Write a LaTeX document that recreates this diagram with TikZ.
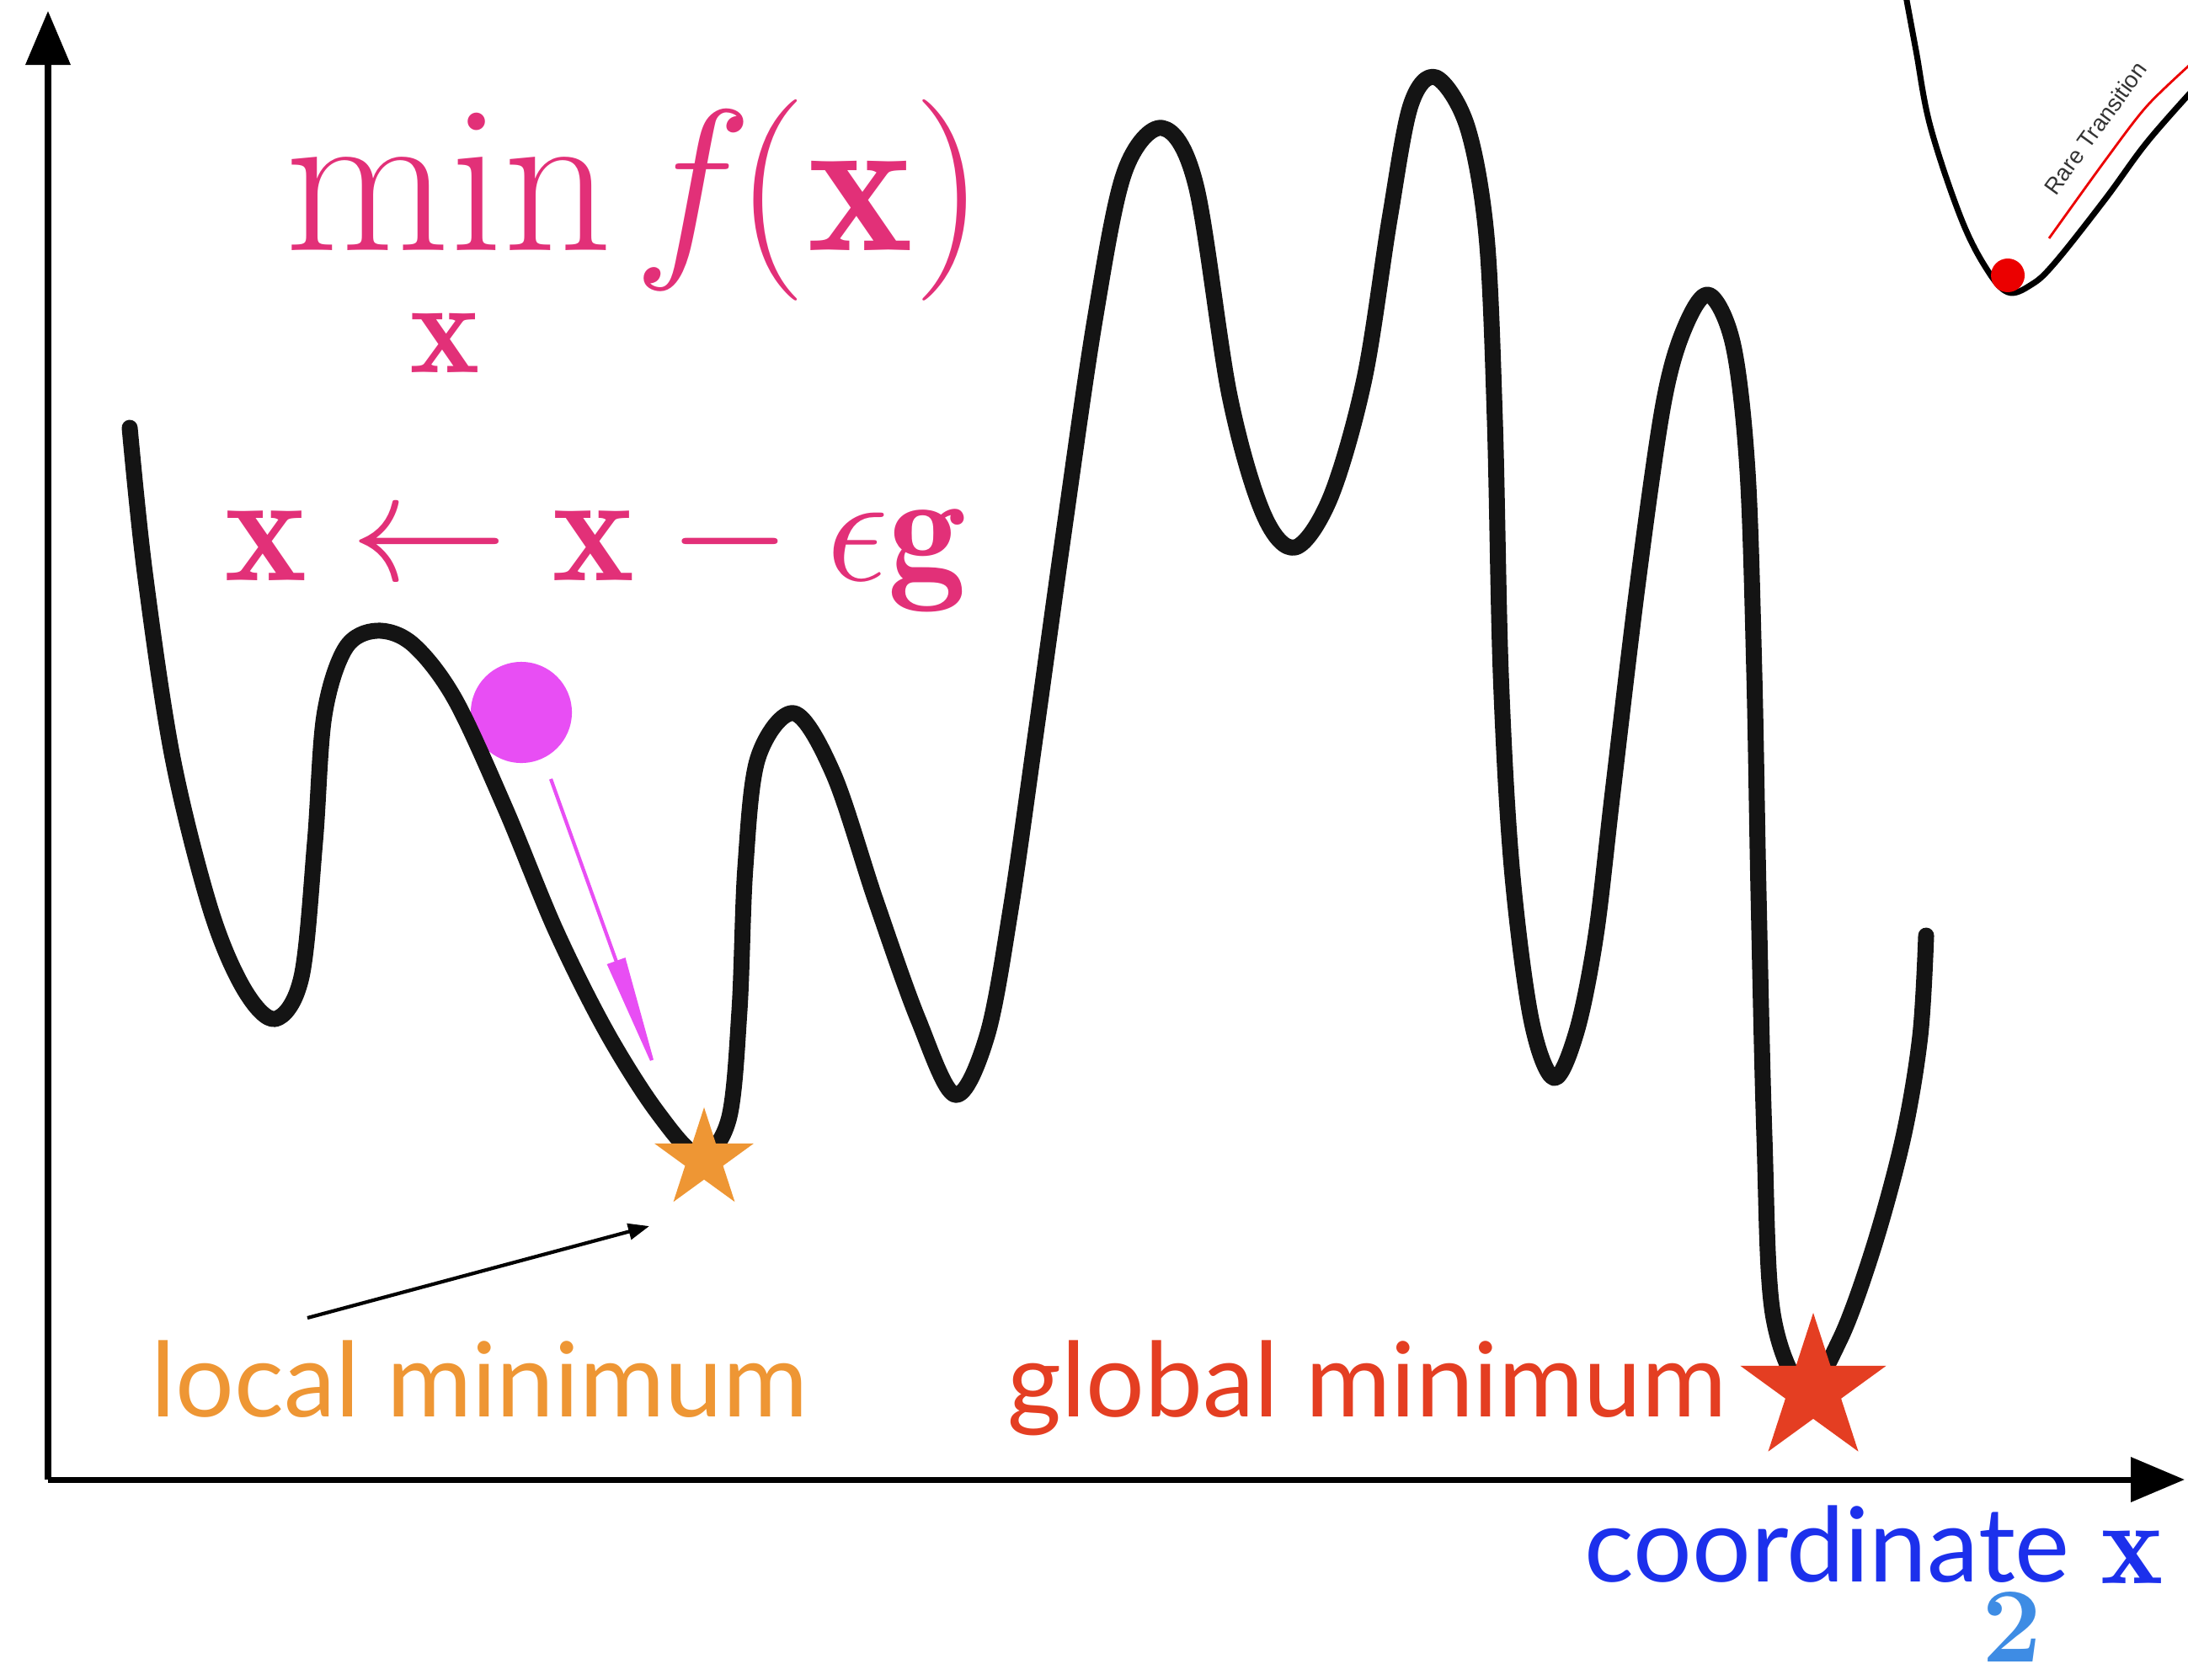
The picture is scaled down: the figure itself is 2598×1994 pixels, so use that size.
\RequirePackage{fix-cm}
\documentclass[tikz,border=0pt]{standalone}
\usepackage{fontspec}
\newfontfamily\lato{Lato}
\newfontfamily\arialfont{Liberation Sans}
\usetikzlibrary{arrows.meta,shapes.geometric}
\definecolor{fpink}{RGB}{226,48,120}
\definecolor{ballmag}{RGB}{232,78,244}
\definecolor{locorange}{RGB}{238,150,52}
\definecolor{globred}{RGB}{228,62,34}
\definecolor{coordblue}{RGB}{28,48,236}
\definecolor{twoblue}{RGB}{62,140,228}
\definecolor{dotred}{RGB}{235,0,0}
\begin{document}
\begin{tikzpicture}[x=0.01cm,y=-0.01cm,
  landscape/.style={line width=5.4pt, line join=round, line cap=round, black!92},
  axisline/.style={line width=2pt, -{Triangle[length=0.64cm,width=0.52cm]}},
  sanslabel/.style={anchor=base west, inner sep=0, font=\lato\fontsize{35}{40}\selectfont},
  mathlabel/.style={anchor=base west, inner sep=0, text=fpink},
  starmark/.style={star, star points=5, star point ratio=2.618, inner sep=0, draw=none},
  dot/.style={circle, inner sep=0, draw=none}]
\useasboundingbox (0,0) rectangle (2598,1994);

% axes
\coordinate (O) at (57,1757);
\coordinate (ytip) at (57,13);
\coordinate (xtip) at (2594,1757);
\draw[axisline] (O) -- (ytip);
\draw[axisline] (O) -- (xtip);

% ball
\node[dot, fill=ballmag, minimum size=1.2cm] (ball) at (619,846) {};

% landscape
\draw[landscape] plot[smooth, tension=0.55] coordinates {
(154,508) (172,680) (205,900) (250,1080) (290,1175) (327,1210) (358,1160)
(374,1000) (385,850) (410,770) (447,749) (490,765) (540,830) (600,960)
(660,1105) (720,1225) (780,1320) (830,1372) (865,1330) (878,1200) (885,1030)
(900,900) (943,847) (990,920) (1040,1070) (1090,1210) (1134,1300) (1172,1230)
(1200,1080) (1230,870) (1262,640) (1300,380) (1335,205) (1380,152) (1420,220)
(1460,470) (1500,610) (1538,650) (1580,590) (1620,450) (1650,260) (1675,125)
(1705,92) (1742,150) (1765,280) (1775,500) (1782,800) (1795,1030) (1818,1210)
(1845,1280) (1872,1225) (1895,1110) (1915,940) (1945,690) (1975,480) (2000,390)
(2029,350) (2058,410) (2075,560) (2083,800) (2088,1060) (2095,1350) (2105,1560)
(2143,1650) (2185,1590) (2225,1480) (2260,1350) (2280,1230) (2287,1111)};

% gradient step arrow
\coordinate (gstart) at (654,925);
\coordinate (gend) at (784,1287);
\draw[ballmag, line width=1.2pt, -{Triangle[length=1.55cm,width=0.22cm]}] (gstart) -- (gend);

% minima markers
\node[starmark, fill=locorange, minimum size=1.24cm] (lstar) at (836,1377) {};
\node[starmark, fill=globred, minimum size=1.82cm] (gstar) at (2153,1650) {};

% pointer to local minimum
\coordinate (pstart) at (365,1565);
\coordinate (ptip) at (771,1456);
\draw[line width=1.2pt, -{Triangle[length=0.25cm,width=0.19cm]}] (pstart) -- (ptip);

% formulas
\node[mathlabel, font=\fontsize{72}{76}\selectfont] (minop) at (338,297) {min};
\node[mathlabel, anchor=base, font=\fontsize{45}{50}\selectfont] (minsub) at (528,442) {$\mathbf{x}$};
\node[mathlabel, font=\fontsize{68}{72}\selectfont] (fofx) at (752,297)
  {$f\mkern-1.5mu(\mathbf{x})$};
\node[mathlabel, font=\fontsize{53}{56}\selectfont] (update) at (266,689)
  {$\mathbf{x}\leftarrow\mathbf{x}-\epsilon\mathbf{g}$};

% labels
\node[sanslabel, text=locorange] (loctext) at (179,1682) {local minimum};
\node[sanslabel, text=globred] (globtext) at (1196,1682) {global minimum};
\node[sanslabel, text=coordblue] (coordtext) at (1881,1878) {coordinate};
\node[anchor=base west, inner sep=0, text=coordblue, font=\fontsize{40}{44}\selectfont] (xlabel) at (2494,1880) {$\mathbf{x}$};
\node[inner sep=0, text=twoblue, font=\fontsize{36}{40}\selectfont\bfseries] (two) at (2389,1932) {2};

% inset: rare transition
\begin{scope}
\clip (0,0) rectangle (2598,1994);
\draw[line width=2pt, line cap=round] plot[smooth, tension=0.6] coordinates {
(2262,-10) (2275,60) (2292,150) (2328,258) (2358,318) (2384,347) (2412,338)
(2440,312) (2500,236) (2550,168) (2610,100)};
\draw[dotred, line width=0.8pt] plot[smooth, tension=0.5] coordinates {
(2433,283) (2500,190) (2550,125) (2610,68)};
\end{scope}
\node[dot, fill=dotred, minimum size=0.4cm] (rdot) at (2384,327) {};
\node[rotate=54, inner sep=0, text=black!80, font=\arialfont\fontsize{7.8}{9}\selectfont] (rare) at (2488,152) {Rare Transition};
\end{tikzpicture}
\end{document}
